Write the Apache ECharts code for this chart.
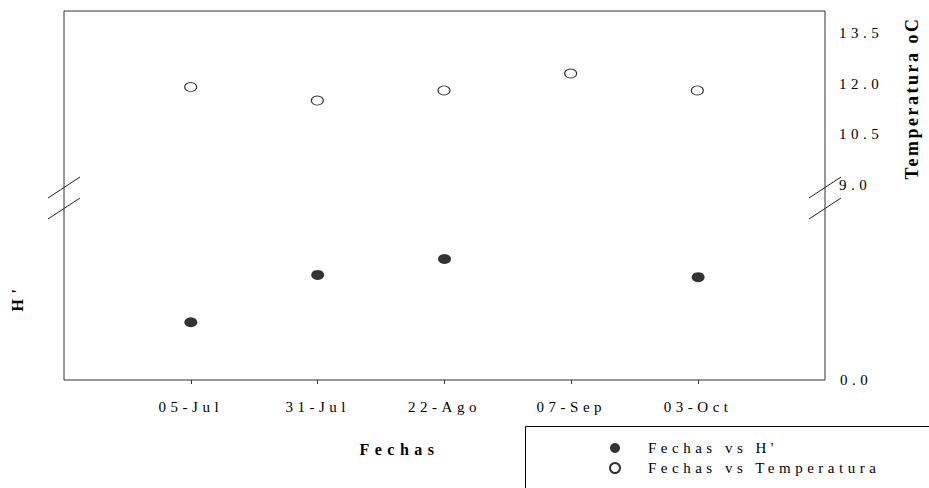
<!DOCTYPE html>
<html>
<head>
<meta charset="utf-8">
<script src="https://cdn.jsdelivr.net/npm/echarts@6/dist/echarts.min.js"></script>
<style>
  html, body { margin: 0; padding: 0; background: #fff; }
  #chart { width: 929px; height: 488px; }
  /* spaced-out lettering, by text size */
  #chart text[style*="15px"] { letter-spacing: 4.5px; }
  #chart text[style*="16px"] { letter-spacing: 5.5px; }
  #chart text[style*="18px"] { letter-spacing: 2.5px; }
</style>
</head>
<body>
<div id="chart"></div>
<script>
// Sampling dates (x categories)
const fechas = ['05-Jul', '31-Jul', '22-Ago', '07-Sep', '03-Oct'];
// Shannon diversity H' per date (no sample on 07-Sep)
const hValues = [1.05, 1.91, 2.20, null, 1.87];
// Water temperature (oC) per date
const tempValues = [11.9, 11.5, 11.8, 12.3, 11.8];

const serieH = "Fechas vs H'";
const serieT = 'Fechas vs Temperatura';

// Layout of the broken frame (pixels)
const L = 64, R = 825, TOP = 11, BOTTOM = 380;
const UPPER_BOTTOM = 185, LOWER_TOP = 215;

// empty slots at both ends so the dates sit inside the frame
const axisCats = [''].concat(fechas, ['']);
const inner = (i) => i > 0 && i < axisCats.length - 1;

const FONT = 'Liberation Serif';

const chart = echarts.init(document.getElementById('chart'), null, { renderer: 'svg' });

// double-slash break marks on both vertical axes
function breakMarks(x) {
  const mid = (UPPER_BOTTOM + LOWER_TOP) / 2 - 2;
  return [-10.5, 10.5].map(dy => ({
    type: 'line',
    shape: { x1: x - 16, y1: mid + dy + 10.5, x2: x + 16, y2: mid + dy - 10.5 },
    style: { stroke: '#222', lineWidth: 1 },
    z: 100
  }));
}

// legend frame, running off the lower right corner
const legendBox = {
  type: 'rect',
  shape: { x: 525.5, y: 426.5, width: 600, height: 200 },
  style: { fill: 'none', stroke: '#000', lineWidth: 1 },
  z: 50
};

chart.setOption({
  animation: false,
  backgroundColor: '#fff',
  textStyle: { fontFamily: FONT, color: '#000' },
  grid: [
    { left: L, right: 929 - R, top: TOP, height: UPPER_BOTTOM - TOP, show: false },
    { left: L, right: 929 - R, top: LOWER_TOP, height: BOTTOM - LOWER_TOP, show: false },
    { left: L, right: 929 - R, top: TOP, height: BOTTOM - TOP, show: true,
      borderColor: '#333', borderWidth: 1, backgroundColor: 'transparent' }
  ],
  xAxis: [
    { gridIndex: 0, type: 'category', data: axisCats, boundaryGap: false, position: 'top',
      axisLine: { show: false }, axisTick: { show: false }, axisLabel: { show: false }, splitLine: { show: false } },
    { gridIndex: 1, type: 'category', data: axisCats, boundaryGap: false, position: 'bottom',
      axisLine: { show: false },
      axisTick: { show: true, length: 4, interval: (i) => inner(i), lineStyle: { color: '#333' } },
      axisLabel: { interval: (i) => inner(i), fontSize: 15, margin: 19, color: '#000', fontFamily: FONT },
      splitLine: { show: false },
      name: 'Fechas', nameLocation: 'middle', nameGap: 61,
      nameTextStyle: { fontSize: 16, fontWeight: 'bold', fontFamily: FONT, color: '#000', padding: [0, 90, 0, 0] } },
    { gridIndex: 2, type: 'category', data: axisCats, show: false }
  ],
  yAxis: [
    { gridIndex: 0, type: 'value', position: 'right', min: 9, max: 14.15, interval: 1.5,
      axisLine: { show: false }, axisTick: { show: false }, splitLine: { show: false },
      axisLabel: { showMaxLabel: false, formatter: (v) => v.toFixed(1), fontSize: 15, margin: 15, color: '#000', fontFamily: FONT },
      name: 'Temperatura oC', nameLocation: 'middle', nameRotate: 90, nameGap: 79,
      nameTextStyle: { fontSize: 18, fontWeight: 'bold', fontFamily: FONT, color: '#000' } },
    { gridIndex: 1, type: 'value', position: 'left', min: 0, max: 3,
      axisLine: { show: false }, axisTick: { show: false }, axisLabel: { show: false }, splitLine: { show: false },
      name: "H'", nameLocation: 'middle', nameRotate: 90, nameGap: 39,
      nameTextStyle: { fontSize: 16, fontWeight: 'bold', fontFamily: FONT, color: '#000' } },
    { gridIndex: 1, type: 'value', position: 'right', min: 0, max: 9, interval: 9,
      axisLine: { show: false }, axisTick: { show: false }, splitLine: { show: false },
      axisLabel: { showMaxLabel: false, formatter: (v) => v.toFixed(1), fontSize: 15, margin: 15, color: '#000', fontFamily: FONT } },
    { gridIndex: 2, type: 'value', show: false }
  ],
  legend: {
    orient: 'vertical', left: 609, top: 438,
    padding: 0, itemGap: 0,
    itemWidth: 12, itemHeight: 10,
    textStyle: { fontSize: 15, lineHeight: 20, fontFamily: FONT, color: '#000', padding: [0, 0, 0, 22] },
    data: [serieH, serieT]
  },
  series: [
    { name: serieH, type: 'scatter', xAxisIndex: 1, yAxisIndex: 1,
      symbol: 'circle', symbolSize: [13, 10],
      itemStyle: { color: '#000' },
      data: fechas.map((f, i) => [f, hValues[i]]).filter(d => d[1] !== null) },
    { name: serieT, type: 'scatter', xAxisIndex: 0, yAxisIndex: 0,
      symbol: 'circle', symbolSize: [12, 9],
      itemStyle: { color: '#fff', borderColor: '#000', borderWidth: 1 },
      data: fechas.map((f, i) => [f, tempValues[i]]) }
  ],
  graphic: breakMarks(L).concat(breakMarks(R), [legendBox])
});
</script>
</body>
</html>
